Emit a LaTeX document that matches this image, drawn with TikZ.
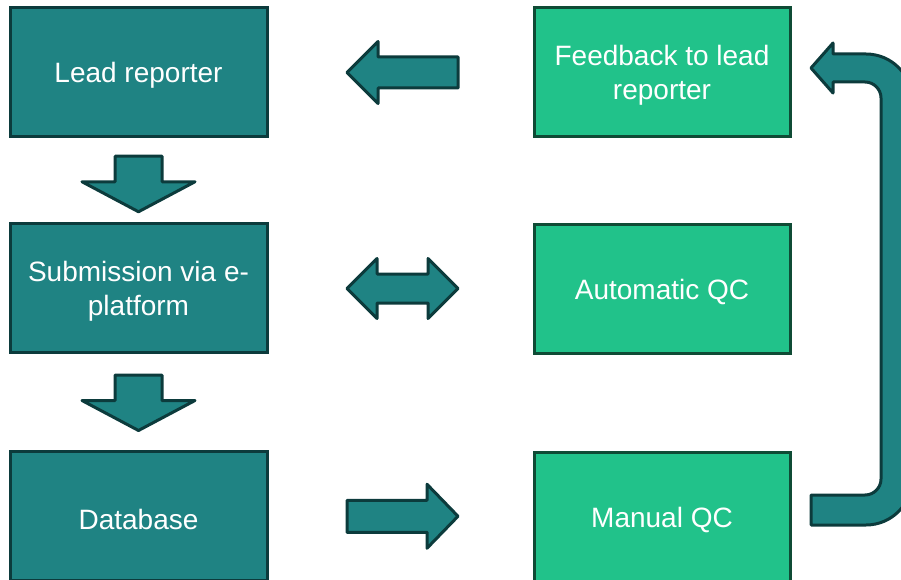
\documentclass[tikz,border=0pt]{standalone}
\usepackage{fontspec}
\setmainfont{Liberation Sans}
\usepackage{tikz}
\usetikzlibrary{positioning, calc}
\definecolor{tealfill}{HTML}{1F8383}
\definecolor{tealline}{HTML}{0C3B3C}
\definecolor{qcfill}{HTML}{21C28A}
\definecolor{qcline}{HTML}{0F4B35}
\tikzset{%
	box/.style={
		rectangle,
		draw,
		line width=3pt,
		minimum width=257pt,
		minimum height=129pt
	},
	boxtext/.style={
		align=center,
		text=white,
		yshift=-3pt,
		font=\fontsize{28}{34}\selectfont
	},
	reporterbox/.style={box, fill=tealfill, draw=tealline},
	qcbox/.style={box, fill=qcfill, draw=qcline, minimum width=256pt},
	blockarrow/.style={
		fill=tealfill,
		draw=tealline,
		line width=3pt,
		line join=round
	},
}
\begin{document}
\begin{tikzpicture}[x=1pt,y=-1pt]
		\useasboundingbox (0,0) rectangle (901,580);
		
		% left column
		\node[reporterbox, label={[boxtext]center:Lead reporter}] (lead) at (138.5,72.5) {};
		\node[reporterbox, label={[boxtext]center:Submission via e-\\platform}] (submission) at (138.5,288) {};
		\node[reporterbox, label={[boxtext]center:Database}] (database) at (138.5,516) {};
		
		% right column
		\node[qcbox, label={[boxtext]center:Feedback to lead\\reporter}] (feedback) at (662,72.5) {};
		\node[qcbox, label={[boxtext]center:Automatic QC}] (autoqc) at (662,289) {};
		\node[qcbox, label={[boxtext]center:Manual QC}] (manualqc) at (662,516.5) {};
		
		% down arrows
		\coordinate (down1) at ($(lead.south)!0.5!(submission.north)+(0,3)$);
		\coordinate (down2) at ($(submission.south)!0.5!(database.north)$);
		\foreach \c in {down1, down2}
		\draw[blockarrow, shift={(\c)}] (0,28.5) -- (-56.5,-1.5) -- (-23.5,-1.5) -- (-23.5,-27)
			-- (23.5,-27) -- (23.5,-1.5) -- (56.5,-1.5) -- cycle;
		
		% arrow back to lead reporter
		\coordinate (back) at ($(lead.east)!0.5!(feedback.west)+(2,0)$);
		\draw[blockarrow, shift={(back)}] (-55.5,0) -- (-24.5,-31) -- (-24.5,-15.5) -- (55.5,-15.5)
			-- (55.5,15.5) -- (-24.5,15.5) -- (-24.5,31) -- cycle;
		
		% two-way arrow
		\coordinate (both) at ($(submission.east)!0.5!(autoqc.west)+(2,0)$);
		\draw[blockarrow, shift={(both)}] (-55.5,0) -- (-25.5,-30) -- (-25.5,-14.5) -- (25.5,-14.5)
			-- (25.5,-30) -- (55.5,0) -- (25.5,30) -- (25.5,14.5) -- (-25.5,14.5) -- (-25.5,30) -- cycle;
		
		% arrow to manual QC
		\coordinate (fwd) at ($(database.east)!0.5!(manualqc.west)+(2,0)$);
		\draw[blockarrow, shift={(fwd)}] (55.5,0) -- (24.5,-32) -- (24.5,-16) -- (-55.5,-16)
			-- (-55.5,16) -- (24.5,16) -- (24.5,32) -- cycle;
		
		% U-turn from manual QC to feedback
		\draw[blockarrow] (811,495) -- (865,495) .. controls (873.8,495) and (881,487.8) .. (881,479)
			-- (881,98) .. controls (881,89.2) and (873.8,82) .. (865,82)
			-- (833,82) -- (833,93) -- (811,68) -- (833,43) -- (833,54)
			-- (866,54) .. controls (891.4,54) and (912,74.6) .. (912,100)
			-- (912,479) .. controls (912,504.4) and (891.4,525) .. (866,525)
			-- (811,525) -- cycle;
\end{tikzpicture}
\end{document}
